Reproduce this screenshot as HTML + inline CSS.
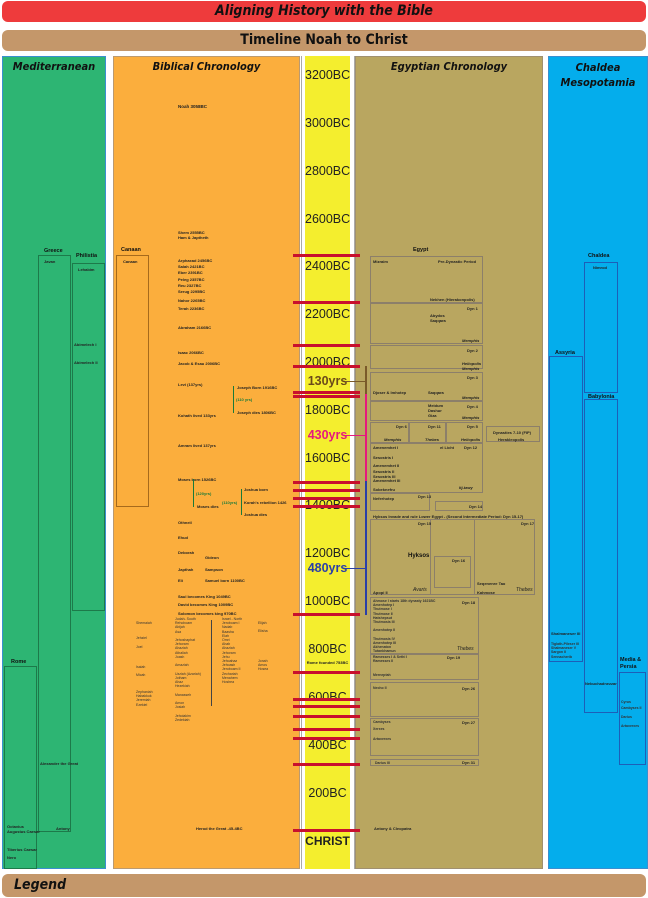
<!DOCTYPE html>
<html><head><meta charset="utf-8"><style>
body{margin:0;width:648px;height:898px;position:relative;background:#fff;font-family:"Liberation Sans",sans-serif;overflow:hidden}
div{position:absolute;box-sizing:border-box}
.t{font-size:4px;font-weight:bold;color:#222;white-space:nowrap;line-height:5px}
.s{font-size:3.5px;color:#333;white-space:nowrap;line-height:4.2px}
.h{font-style:italic;font-size:11px;color:#111;text-align:center;width:100%;font-family:"DejaVu Sans Condensed","Liberation Sans",sans-serif;font-weight:bold}
.lab{font-size:5.5px;font-weight:bold;color:#111;white-space:nowrap}
.yr{left:305px;width:45px;text-align:center;font-size:12.5px;color:#222;line-height:14px}
.rb{left:293px;width:67px;height:3px;background:#c8102e}
.bx{border:1px solid #8c7f6a}
.gb{border:1px solid #1d7a4a}
.bb{border:1px solid #1d5fb8}
.ob{border:1px solid #a66a1c}
</style></head><body>
<div style="left:2px;top:1px;width:644px;height:21px;background:#ee3b3c;border-radius:6px;text-align:center;font:italic bold 14px 'DejaVu Sans Condensed','Liberation Sans',sans-serif;line-height:21px;color:#111">Aligning History with the Bible</div>
<div style="left:2px;top:30px;width:644px;height:21px;background:#c4976a;border-radius:6px;text-align:center;font:bold 14px 'DejaVu Sans Condensed','Liberation Sans',sans-serif;line-height:21px;color:#111">Timeline Noah to Christ</div>
<div style="left:2px;top:874px;width:644px;height:23px;background:#c4976a;border-radius:6px;font:italic bold 14px 'DejaVu Sans Condensed','Liberation Sans',sans-serif;line-height:23px;color:#111;padding-left:12px">Legend</div>

<!-- columns -->
<div style="left:2px;top:56px;width:104px;height:813px;background:#2db573;border:1px solid #3a8fd0"><div class="h" style="top:3px">Mediterranean</div></div>
<div style="left:113px;top:56px;width:187px;height:813px;background:#fbae3d;border:1px solid #bb9a70"><div class="h" style="top:3px">Biblical Chronology</div></div>
<div style="left:301px;top:56px;width:54px;height:813px;background:#fff;border-left:1px solid #aaa;border-right:1px solid #aaa"></div>
<div style="left:305px;top:56px;width:45px;height:813px;background:#f4ee2e"></div>
<div style="left:355px;top:56px;width:188px;height:813px;background:#b9a660;border:1px solid #a09070"><div class="h" style="top:3px">Egyptian Chronology</div></div>
<div style="left:548px;top:56px;width:100px;height:813px;background:#04adec;border:1px solid #3a8fd0"><div class="h" style="top:3px;line-height:15px">Chaldea<br>Mesopotamia</div></div>

<!-- years -->
<div class="yr" style="top:68px">3200BC</div>
<div class="yr" style="top:116px">3000BC</div>
<div class="yr" style="top:164px">2800BC</div>
<div class="yr" style="top:212px">2600BC</div>
<div class="yr" style="top:259px">2400BC</div>
<div class="yr" style="top:307px">2200BC</div>
<div class="yr" style="top:355px">2000BC</div>
<div class="yr" style="top:403px">1800BC</div>
<div class="yr" style="top:451px">1600BC</div>
<div class="yr" style="top:498px">1400BC</div>
<div class="yr" style="top:546px">1200BC</div>
<div class="yr" style="top:594px">1000BC</div>
<div class="yr" style="top:642px">800BC</div>
<div class="yr" style="top:690px">600BC</div>
<div class="yr" style="top:738px">400BC</div>
<div class="yr" style="top:786px">200BC</div>
<div class="yr" style="top:834px;font-weight:bold;font-size:12px">CHRIST</div>
<div class="yr" style="top:374px;font-weight:bold;color:#6b4a1a">130yrs</div>
<div class="yr" style="top:428px;font-weight:bold;color:#e6197d">430yrs</div>
<div class="yr" style="top:561px;font-weight:bold;color:#2a3fa8">480yrs</div>
<div style="left:365px;top:366px;width:2px;height:28px;background:#7a5a2a"></div>
<div style="left:365px;top:394px;width:2px;height:87px;background:#e6197d"></div>
<div style="left:365px;top:481px;width:2px;height:134px;background:#2a3fa8"></div>
<div style="left:345px;top:381px;width:20px;height:1px;background:#7a5a2a"></div>
<div style="left:345px;top:435px;width:20px;height:1px;background:#e6197d"></div>
<div style="left:345px;top:568px;width:20px;height:1px;background:#2a3fa8"></div>
<div class="t" style="left:312px;top:803px;display:none"></div>
<div class="t" style="left:305px;top:660px;width:45px;text-align:center">Rome founded 753BC</div>

<!-- red bars -->
<div class="rb" style="top:254px"></div><div class="rb" style="top:301px"></div><div class="rb" style="top:344px"></div>
<div class="rb" style="top:365px"></div><div class="rb" style="top:391px"></div><div class="rb" style="top:395px"></div>
<div class="rb" style="top:481px"></div><div class="rb" style="top:489px"></div><div class="rb" style="top:497px"></div>
<div class="rb" style="top:505px"></div><div class="rb" style="top:613px"></div><div class="rb" style="top:671px"></div>
<div class="rb" style="top:698px"></div><div class="rb" style="top:705px"></div><div class="rb" style="top:715px"></div>
<div class="rb" style="top:728px"></div><div class="rb" style="top:737px"></div><div class="rb" style="top:763px"></div>
<div class="rb" style="top:829px"></div>

<!-- Mediterranean -->
<div class="lab" style="left:44px;top:248px">Greece</div>
<div class="gb" style="left:38px;top:255px;width:33px;height:577px"></div>
<div class="t" style="left:44px;top:259px">Javan</div>
<div class="lab" style="left:76px;top:253px">Philistia</div>
<div class="gb" style="left:72px;top:263px;width:33px;height:348px"></div>
<div class="t" style="left:78px;top:267px">Lehabim</div>
<div class="t" style="left:74px;top:342px">Abimelech I</div>
<div class="t" style="left:74px;top:360px">Abimelech II</div>
<div class="lab" style="left:11px;top:659px">Rome</div>
<div class="gb" style="left:4px;top:666px;width:33px;height:203px"></div>
<div class="t" style="left:40px;top:761px">Alexander the Great</div>
<div class="t" style="left:56px;top:826px">Antony</div>
<div class="t" style="left:7px;top:824px">Octavius<br>Augustus Caesar</div>
<div class="t" style="left:7px;top:847px">Tiberius Caesar</div>
<div class="t" style="left:7px;top:855px">Nero</div>

<!-- Biblical -->
<div class="t" style="left:178px;top:104px;font-size:4.5px">Noah 3058BC</div>
<div class="t" style="left:178px;top:230px">Shem 2555BC<br>Ham &amp; Japtheth</div>
<div class="lab" style="left:121px;top:247px">Canaan</div>
<div class="ob" style="left:116px;top:255px;width:33px;height:252px"></div>
<div class="t" style="left:123px;top:259px">Canaan</div>
<div class="t" style="left:178px;top:258px;line-height:6.2px">Arphaxad 2456BC<br>Salah 2421BC<br>Eber 2391BC<br>Peleg 2357BC<br>Reu 2327BC<br>Serug 2295BC</div>
<div class="t" style="left:178px;top:298px">Nahor 2265BC</div>
<div class="t" style="left:178px;top:306px">Terah 2236BC</div>
<div class="t" style="left:178px;top:325px">Abraham 2166BC</div>
<div class="t" style="left:178px;top:350px">Isaac 2066BC</div>
<div class="t" style="left:178px;top:361px">Jacob &amp; Esau 2006BC</div>
<div class="t" style="left:178px;top:382px">Levi (137yrs)</div>
<div class="t" style="left:237px;top:385px">Joseph Born 1916BC</div>
<div style="left:233px;top:386px;width:1px;height:27px;background:#1a7a3a"></div>
<div class="t" style="left:236px;top:397px;color:#1a7a3a">(110 yrs)</div>
<div class="t" style="left:237px;top:410px">Joseph dies 1806BC</div>
<div class="t" style="left:178px;top:413px">Kohath lived 133yrs</div>
<div class="t" style="left:178px;top:443px">Amram lived 137yrs</div>
<div class="t" style="left:178px;top:477px">Moses born 1526BC</div>
<div style="left:193px;top:479px;width:1px;height:28px;background:#1a7a3a"></div>
<div class="t" style="left:196px;top:491px;color:#1a7a3a">(120yrs)</div>
<div class="t" style="left:197px;top:504px">Moses dies</div>
<div class="t" style="left:244px;top:487px">Joshua born</div>
<div style="left:241px;top:489px;width:1px;height:26px;background:#1a7a3a"></div>
<div class="t" style="left:222px;top:500px;color:#1a7a3a">(110yrs)</div>
<div class="t" style="left:244px;top:500px">Korah's rebellion 1426</div>
<div class="t" style="left:244px;top:512px">Joshua dies</div>
<div class="t" style="left:178px;top:520px">Othneil</div>
<div class="t" style="left:178px;top:535px">Ehud</div>
<div class="t" style="left:178px;top:550px">Deborah</div>
<div class="t" style="left:205px;top:555px">Gideon</div>
<div class="t" style="left:178px;top:567px">Japthah</div>
<div class="t" style="left:205px;top:567px">Sampson</div>
<div class="t" style="left:178px;top:578px">Eli</div>
<div class="t" style="left:205px;top:578px">Samuel born 1100BC</div>
<div class="t" style="left:178px;top:594px">Saul becomes King 1049BC</div>
<div class="t" style="left:178px;top:602px">David becomes King 1009BC</div>
<div class="t" style="left:178px;top:611px">Solomon becomes king 970BC</div>
<div style="left:211px;top:620px;width:1px;height:86px;background:#444"></div>
<div class="s" style="left:136px;top:621px">Shemaiah</div>
<div class="s" style="left:136px;top:636px">Jehziel</div>
<div class="s" style="left:136px;top:645px">Joel</div>
<div class="s" style="left:136px;top:665px">Isaiah</div>
<div class="s" style="left:136px;top:673px">Micah</div>
<div class="s" style="left:136px;top:690px">Zephaniah<br>Habakkuk<br>Jeremiah<br>Ezekiel</div>
<div class="s" style="left:175px;top:617px">Judah- South<br>Rehoboam<br>Abijah<br>Asa<br><br>Jehoshaphat<br>Jehoram<br>Ahaziah<br>Athaliah<br>Joash<br><br>Amaziah<br><br>Uzziah (Azariah)<br>Jotham<br>Ahaz<br>Hezekiah<br><br>Manasseh<br><br>Amon<br>Josiah<br><br>Jehoiakim<br>Zedekiah</div>
<div class="s" style="left:222px;top:617px">Israel - North<br>Jeroboam I<br>Nadab<br>Baasha<br>Elah<br>Omri<br>Ahab<br>Ahaziah<br>Jehoram<br>Jehu<br>Jehoahaz<br>Jehoash<br>Jeroboam II<br>Zechariah<br>Menahem<br>Hoshea</div>
<div class="s" style="left:258px;top:621px">Elijah<br><br>Elisha<br><br><br><br><br><br><br>Jonah<br>Amos<br>Hosea</div>
<div class="t" style="left:196px;top:826px">Herod the Great  -45-4BC</div>

<!-- Egypt -->
<div class="lab" style="left:413px;top:247px">Egypt</div>
<div class="bx" style="left:370px;top:256px;width:113px;height:47px"></div>
<div class="t" style="left:373px;top:259px">Mizraim</div>
<div class="t" style="left:438px;top:259px">Pre-Dynastic Period</div>
<div class="t" style="left:430px;top:297px">Nekhen (Hierakonpolis)</div>
<div class="bx" style="left:370px;top:303px;width:113px;height:41px"></div>
<div class="t" style="left:467px;top:306px">Dyn 1</div>
<div class="t" style="left:430px;top:313px">Abydos<br>Saqqara</div>
<div class="t" style="left:462px;top:338px;font-style:italic">Memphis</div>
<div class="bx" style="left:370px;top:345px;width:113px;height:24px"></div>
<div class="t" style="left:467px;top:348px">Dyn 2</div>
<div class="t" style="left:462px;top:361px;font-style:italic">Heliopolis<br>Memphis</div>
<div class="bx" style="left:370px;top:372px;width:113px;height:29px"></div>
<div class="t" style="left:467px;top:375px">Dyn 3</div>
<div class="t" style="left:373px;top:390px">Djoser &amp; Imhotep</div>
<div class="t" style="left:428px;top:390px">Saqqara</div>
<div class="t" style="left:462px;top:395px;font-style:italic">Memphis</div>
<div class="bx" style="left:370px;top:401px;width:113px;height:20px"></div>
<div class="t" style="left:428px;top:403px">Meidum<br>Dashur<br>Giza</div>
<div class="t" style="left:467px;top:404px">Dyn 4</div>
<div class="t" style="left:462px;top:415px;font-style:italic">Memphis</div>
<div class="bx" style="left:370px;top:422px;width:39px;height:21px"></div>
<div class="bx" style="left:409px;top:422px;width:37px;height:21px"></div>
<div class="bx" style="left:446px;top:422px;width:37px;height:21px"></div>
<div class="t" style="left:396px;top:424px">Dyn 6</div>
<div class="t" style="left:428px;top:424px">Dyn 11</div>
<div class="t" style="left:467px;top:424px">Dyn 5</div>
<div class="t" style="left:384px;top:437px;font-style:italic">Memphis</div>
<div class="t" style="left:425px;top:437px;font-style:italic">Thebes</div>
<div class="t" style="left:461px;top:437px;font-style:italic">Heliopolis</div>
<div class="bx" style="left:486px;top:426px;width:54px;height:16px"></div>
<div class="t" style="left:493px;top:430px">Dynasties 7-10 (FIP)</div>
<div class="t" style="left:498px;top:437px">Herakleopolis</div>
<div class="bx" style="left:370px;top:443px;width:113px;height:50px"></div>
<div class="t" style="left:373px;top:445px">Amenemhet I</div>
<div class="t" style="left:440px;top:445px">el Licht</div>
<div class="t" style="left:464px;top:445px">Dyn 12</div>
<div class="t" style="left:373px;top:455px">Sesostris I</div>
<div class="t" style="left:373px;top:463px">Amenemhet II</div>
<div class="t" style="left:373px;top:470px;line-height:4.6px">Sesostris II<br>Sesostris III<br>Amenemhet III</div>
<div class="t" style="left:373px;top:487px">Sobeknefru</div>
<div class="t" style="left:459px;top:485px;font-style:italic">Itj-tawy</div>
<div class="bx" style="left:370px;top:493px;width:60px;height:18px"></div>
<div class="t" style="left:373px;top:496px">Neferhotep</div>
<div class="t" style="left:418px;top:494px">Dyn 13</div>
<div class="bx" style="left:435px;top:501px;width:48px;height:10px"></div>
<div class="t" style="left:469px;top:504px">Dyn 14</div>
<div class="t" style="left:373px;top:514px">Hyksos Invade and rule Lower Egypt - (Second Intermediate Period: Dyn 15-17)</div>
<div class="bx" style="left:370px;top:519px;width:165px;height:76px"></div>
<div class="bx" style="left:430px;top:519px;width:45px;height:76px"></div>
<div class="bx" style="left:434px;top:556px;width:37px;height:32px"></div>
<div class="t" style="left:418px;top:521px">Dyn 15</div>
<div class="t" style="left:521px;top:521px">Dyn 17</div>
<div class="lab" style="left:408px;top:553px;font-size:6px">Hyksos</div>
<div class="t" style="left:452px;top:558px">Dyn 16</div>
<div class="t" style="left:477px;top:581px">Seqenenre Tao</div>
<div class="t" style="left:373px;top:590px">Apopi II</div>
<div class="t" style="left:413px;top:588px;font-style:italic;font-size:5px;font-weight:normal">Avaris</div>
<div class="t" style="left:477px;top:590px">Kahmose</div>
<div class="t" style="left:516px;top:588px;font-style:italic;font-size:5px;font-weight:normal">Thebes</div>
<div class="bx" style="left:370px;top:597px;width:109px;height:57px"></div>
<div class="s" style="left:373px;top:599px;font-weight:bold">Ahmose I starts 18th dynasty 1621BC<br>Amenhotep I<br>Thutmose I<br>Thutmose II<br>Hatshepsut<br>Thutmosis III<br><br>Amenhotep II<br><br>Thutmosis IV<br>Amenhotep III</div>
<div class="t" style="left:462px;top:600px">Dyn 18</div>
<div class="s" style="left:373px;top:645px;font-weight:bold">Akhenaton<br>Tutankhamun</div>
<div class="t" style="left:457px;top:647px;font-style:italic;font-size:5px;font-weight:normal">Thebes</div>
<div class="bx" style="left:370px;top:654px;width:109px;height:26px"></div>
<div class="s" style="left:373px;top:655px;font-weight:bold">Ramesses I &amp; Sethi I<br>Ramesses II</div>
<div class="t" style="left:447px;top:655px">Dyn 19</div>
<div class="s" style="left:373px;top:673px;font-weight:bold">Merneptah</div>
<div class="bx" style="left:370px;top:682px;width:109px;height:35px"></div>
<div class="s" style="left:373px;top:686px;font-weight:bold">Necho II</div>
<div class="t" style="left:462px;top:686px">Dyn 26</div>
<div class="bx" style="left:370px;top:718px;width:109px;height:38px"></div>
<div class="s" style="left:373px;top:720px;font-weight:bold">Cambyses</div>
<div class="s" style="left:373px;top:727px;font-weight:bold">Xerxes</div>
<div class="s" style="left:373px;top:737px;font-weight:bold">Artaxerxes</div>
<div class="t" style="left:462px;top:720px">Dyn 27</div>
<div class="bx" style="left:370px;top:759px;width:109px;height:7px"></div>
<div class="s" style="left:375px;top:761px;font-weight:bold">Darius III</div>
<div class="t" style="left:462px;top:760px">Dyn 31</div>
<div class="t" style="left:374px;top:826px">Antony &amp; Cleopatra</div>

<!-- Mesopotamia -->
<div class="lab" style="left:588px;top:253px">Chaldea</div>
<div class="bb" style="left:584px;top:262px;width:34px;height:131px"></div>
<div class="t" style="left:593px;top:265px">Nimrod</div>
<div class="lab" style="left:555px;top:350px">Assyria</div>
<div class="bb" style="left:549px;top:356px;width:34px;height:306px"></div>
<div class="lab" style="left:588px;top:394px">Babylonia</div>
<div class="bb" style="left:584px;top:399px;width:34px;height:314px"></div>
<div class="t" style="left:551px;top:631px">Shalmaneser III</div>
<div class="s" style="left:551px;top:642px;font-weight:bold">Tiglath-Pileser III<br>Shalmaneser V<br>Sargon II<br>Sennacherib</div>
<div class="t" style="left:585px;top:681px">Nebuchadnezzar</div>
<div class="lab" style="left:620px;top:657px;line-height:7px">Media &amp;<br>Persia</div>
<div class="bb" style="left:619px;top:672px;width:27px;height:93px"></div>
<div class="s" style="left:621px;top:700px;font-weight:bold">Cyrus</div>
<div class="s" style="left:621px;top:706px;font-weight:bold">Cambyses II</div>
<div class="s" style="left:621px;top:715px;font-weight:bold">Darius</div>
<div class="s" style="left:621px;top:724px;font-weight:bold">Artaxerxes</div>
</body></html>
